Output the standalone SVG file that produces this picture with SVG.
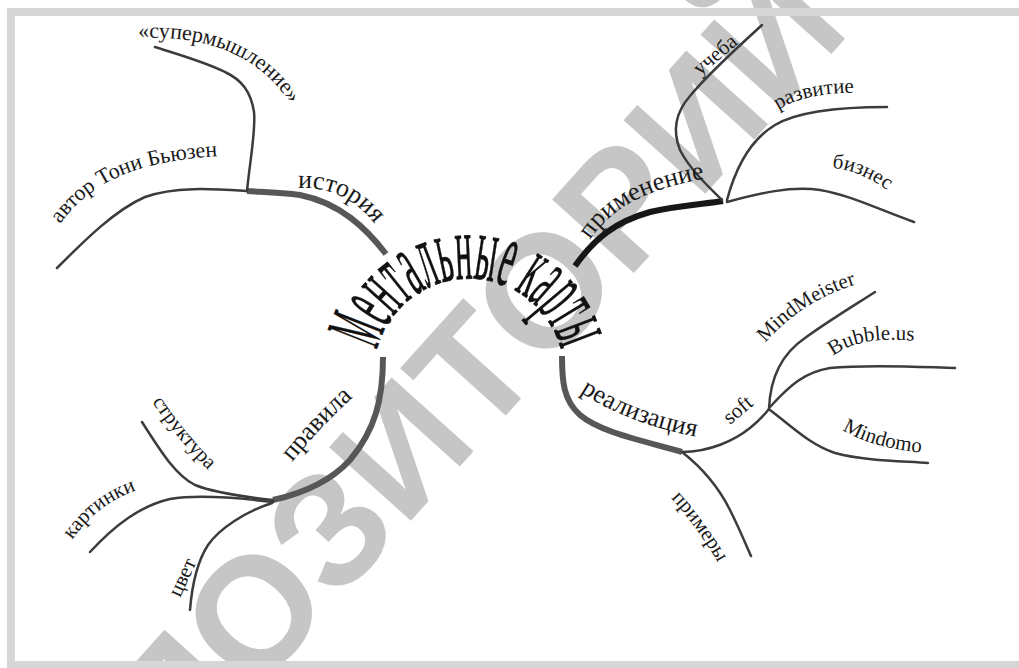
<svg xmlns="http://www.w3.org/2000/svg" width="1019" height="668" viewBox="0 0 1019 668">
<style>
.ln{fill:none;stroke:#3c3c3c;stroke-width:2.5;stroke-linecap:round}
.tg{fill:none;stroke:#575757;stroke-width:6;stroke-linecap:butt}
.tb{fill:none;stroke:#171717;stroke-width:6;stroke-linecap:butt}
.lb{font-family:"Liberation Serif","Times New Roman",serif;fill:#1a1a1a;font-size:21px}
.pl{font-size:26px}
.lg{font-size:22px}
.ct{font-size:94px;fill:#111;stroke:#111;stroke-width:0.8}
.wm{font-family:"Liberation Sans",Arial,sans-serif;font-weight:bold;fill:#c6c6c6;font-size:160px}
</style>
<defs>
<path id="pCenter" d="M377,350 A95,95 0 0,1 561,350"/>
<path id="pAuthor" d="M60,224 C80,196 110,176 150,166 C175,160 200,157 222,156"/>
<path id="pSuper" d="M138,38 Q250,33 294,110"/>
<path id="pHist" d="M298,188 Q345,186 375,224"/>
<path id="pPrim" d="M590,240 C613,205 655,185 722,176"/>
<path id="pUch" d="M700,76 L750,34"/>
<path id="pRazv" d="M778,110 C800,96 830,92 864,93"/>
<path id="pBiz" d="M832,168 C855,170 875,180 898,198"/>
<path id="pReal" d="M580,392 C610,412 650,428 697,437"/>
<path id="pSoft" d="M730,425 L762,398"/>
<path id="pMM" d="M765,343 C790,315 820,295 860,283"/>
<path id="pBub" d="M833,356 C855,340 880,338 918,341"/>
<path id="pMind" d="M842,430 C865,443 890,449 916,452"/>
<path id="pPrimer" d="M671,498 Q700,530 722,570"/>
<path id="pPrav" d="M292,462 C310,440 330,418 352,398"/>
<path id="pStruct" d="M152,402 C168,425 185,447 208,470"/>
<path id="pKart" d="M72,540 C90,515 110,498 144,488"/>
<path id="pCvet" d="M180,598 L200,555"/>
</defs>
<rect width="1019" height="668" fill="#ffffff"/>
<g id="watermark">
<text class="wm" transform="translate(253,611) rotate(-48)" x="-391" y="57">РЕПОЗИТОРИЙ</text>
</g>
<rect x="11" y="12" width="1030" height="653" fill="none" stroke="#d6d6d6" stroke-width="8"/>
<g id="connectors">
<path class="tg" d="M386,254 C366,228 340,203 300,195 C280,192 262,192 247,191"/>
<path class="ln" d="M247,191 C215,189 175,186 145,197 C115,210 85,240 57,268"/>
<path class="ln" d="M247,191 C250,160 256,130 254,112 C251,92 242,80 225,72 C205,62 180,55 155,47"/>
<path class="tb" d="M575,266 C595,238 615,222 650,212 C680,205 705,204 723,201"/>
<path class="ln" d="M722,200 C710,188 690,170 680,150 C672,130 676,112 690,96 C710,72 735,50 762,25"/>
<path class="ln" d="M727,200 C735,170 750,140 775,125 C800,110 850,107 887,107"/>
<path class="ln" d="M727,202 C760,193 790,186 820,190 C850,195 880,210 914,222"/>
<path class="tg" d="M562,356 C562,380 563,400 580,415 C600,432 640,440 682,452"/>
<path class="ln" d="M682,452 C710,452 735,440 750,428 C760,420 765,414 769,409"/>
<path class="ln" d="M769,409 C770,380 780,355 805,338 C830,320 855,305 875,292"/>
<path class="ln" d="M770,407 C790,385 805,372 830,368 C870,364 920,367 955,368"/>
<path class="ln" d="M770,410 C790,425 810,445 835,453 C865,461 900,461 928,463"/>
<path class="ln" d="M682,452 C705,470 720,490 730,510 C740,530 746,545 751,556"/>
<path class="tg" d="M383,357 C383,400 375,430 350,460 C330,482 300,494 273,500"/>
<path class="ln" d="M273,500 C245,497 215,493 195,485 C175,475 160,450 142,422"/>
<path class="ln" d="M273,502 C240,498 200,494 170,499 C140,506 115,525 90,552"/>
<path class="ln" d="M272,503 C245,512 220,528 208,545 C197,562 192,585 190,610"/>
</g>
<g id="center">
<text class="lb ct"><textPath href="#pCenter" textLength="250" lengthAdjust="spacingAndGlyphs"><tspan style="font-size:80px">М</tspan>ентальные карты</textPath></text>
</g>
<g id="n-history"><text class="lb pl"><textPath href="#pHist">история</textPath></text></g>
<g id="n-author"><text class="lb lg"><textPath href="#pAuthor">автор Тони Бьюзен</textPath></text></g>
<g id="n-super"><text class="lb lg"><textPath href="#pSuper">«супермышление»</textPath></text></g>
<g id="n-prim"><text class="lb pl"><textPath href="#pPrim">применение</textPath></text></g>
<g id="n-uch"><text class="lb"><textPath href="#pUch">учеба</textPath></text></g>
<g id="n-razv"><text class="lb"><textPath href="#pRazv">развитие</textPath></text></g>
<g id="n-biz"><text class="lb"><textPath href="#pBiz">бизнес</textPath></text></g>
<g id="n-real"><text class="lb pl"><textPath href="#pReal">реализация</textPath></text></g>
<g id="n-soft"><text class="lb"><textPath href="#pSoft">soft</textPath></text></g>
<g id="n-mm"><text class="lb"><textPath href="#pMM">MindMeister</textPath></text></g>
<g id="n-bub"><text class="lb"><textPath href="#pBub">Bubble.us</textPath></text></g>
<g id="n-mind"><text class="lb"><textPath href="#pMind">Mindomo</textPath></text></g>
<g id="n-primer"><text class="lb"><textPath href="#pPrimer">примеры</textPath></text></g>
<g id="n-prav"><text class="lb pl"><textPath href="#pPrav">правила</textPath></text></g>
<g id="n-struct"><text class="lb"><textPath href="#pStruct">структура</textPath></text></g>
<g id="n-kart"><text class="lb"><textPath href="#pKart">картинки</textPath></text></g>
<g id="n-cvet"><text class="lb"><textPath href="#pCvet">цвет</textPath></text></g>
</svg>
